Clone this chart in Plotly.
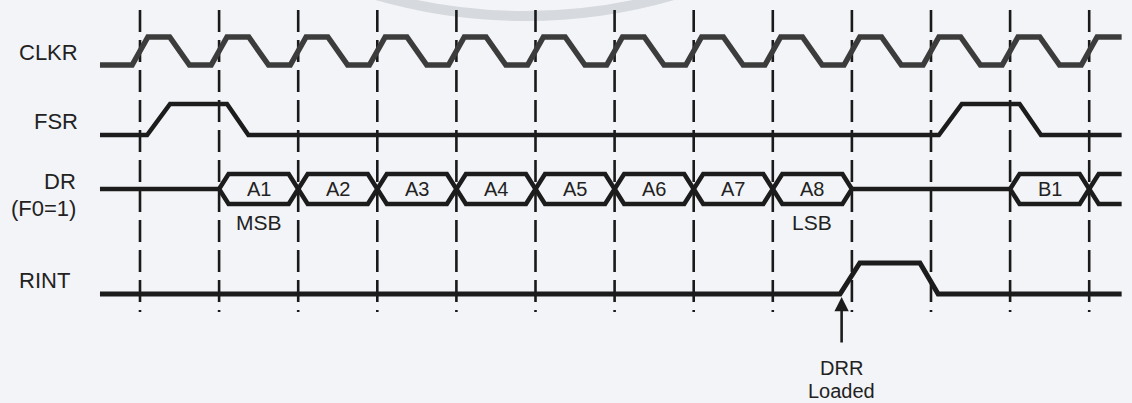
import plotly.graph_objects as go

# ---------------- data (time in clock periods; dashed grid at integer times) ----------------
GRID_TIMES = list(range(0, 13))               # dashed reference lines
T_START, T_END = -0.506, 12.41                # extent of the waveforms

CLKR_RISES = [float(t) for t in range(0, 13)]
CLKR_FALLS = [t + 0.5 for t in range(0, 12)]

FSR_RISES = [0.235, 10.245]
FSR_FALLS = [1.235, 11.255]

DR_WORDS = ["A1", "A2", "A3", "A4", "A5", "A6", "A7", "A8", "B1"]
DR_SLOTS = [1, 2, 3, 4, 5, 6, 7, 8, 11]
DR_OPEN_START = 12                            # next word, continuing off the right edge
DR_NOTES = ["MSB", "LSB"]
DR_NOTE_SLOTS = [1, 8]

RINT_RISES = [8.975]
RINT_FALLS = [9.975]
DRR_LOADED_T = 8.87

SIGNAL_NAMES = ["CLKR", "FSR", "DR", "(F0=1)", "RINT"]
ANNOT_TEXT = ["DRR", "Loaded"]

# ---------------- styling / layout constants ----------------
PX_PER_T = 79.1
X0_PX = 140.0
W, H = 1132, 403
BG = "#f2f4f7"
INK = "#1c1c1c"
FONT = "Liberation Sans, Arial, sans-serif"

ROWS = {  # (low, high) in pixel-like y units (axis reversed)
    "CLKR": (65, 37),
    "FSR": (135, 104),
    "RINT": (294, 263),
}
DR_MID, DR_TOP, DR_BOT = 189, 174, 204
SLANT = 0.12


def t_of_px(px):
    return (px - X0_PX) / PX_PER_T


def waveform(rises, falls, hw_r, hw_f, low, high):
    ev = [(t, "r") for t in rises] + [(t, "f") for t in falls]
    ev.sort()
    xs, ys = [T_START], [low]
    level = low
    for t, k in ev:
        if k == "r":
            xs += [t - hw_r, t + hw_r]
            ys += [low, high]
            level = high
        else:
            xs += [t - hw_f, t + hw_f]
            ys += [high, low]
            level = low
    xs.append(T_END)
    ys.append(level)
    return xs, ys


fig = go.Figure()

# dashed grid lines
gx, gy = [], []
for t in GRID_TIMES:
    gx += [t, t, None]
    gy += [10, 312, None]
fig.add_trace(go.Scatter(x=gx, y=gy, mode="lines",
                         line=dict(color="#1a1a1a", width=2.6, dash="22px,8px"),
                         hoverinfo="skip", showlegend=False))

# CLKR
cx, cy = waveform(CLKR_RISES, CLKR_FALLS, 0.1, 0.125, *ROWS["CLKR"])
fig.add_trace(go.Scatter(x=cx, y=cy, mode="lines",
                         line=dict(color="#3c3c3c", width=5.5), showlegend=False))

# FSR
fx, fy = waveform(FSR_RISES, FSR_FALLS, 0.145, 0.135, *ROWS["FSR"])
fig.add_trace(go.Scatter(x=fx, y=fy, mode="lines",
                         line=dict(color=INK, width=4.5), showlegend=False))

# RINT
rx, ry = waveform(RINT_RISES, RINT_FALLS, 0.125, 0.115, *ROWS["RINT"])
fig.add_trace(go.Scatter(x=rx, y=ry, mode="lines",
                         line=dict(color=INK, width=5), showlegend=False))

# DR bus
dx, dy = [], []
# idle lines
dx += [T_START, DR_SLOTS[0], None]
dy += [DR_MID, DR_MID, None]
dx += [DR_SLOTS[7] + 1, DR_SLOTS[8], None]
dy += [DR_MID, DR_MID, None]
for s in DR_SLOTS:
    dx += [s, s + SLANT, s + 1 - SLANT, s + 1, s + 1 - SLANT, s + SLANT, s, None]
    dy += [DR_MID, DR_TOP, DR_TOP, DR_MID, DR_BOT, DR_BOT, DR_MID, None]
dx += [T_END, DR_OPEN_START + SLANT, DR_OPEN_START, DR_OPEN_START + SLANT, T_END]
dy += [DR_TOP, DR_TOP, DR_MID, DR_BOT, DR_BOT]
fig.add_trace(go.Scatter(x=dx, y=dy, mode="lines",
                         line=dict(color=INK, width=4.5), showlegend=False))

annotations = []
for w, s in zip(DR_WORDS, DR_SLOTS):
    annotations.append(dict(x=s + 0.5, y=DR_MID, text=w, showarrow=False,
                            font=dict(size=20, color="#222", family=FONT)))
for n, s in zip(DR_NOTES, DR_NOTE_SLOTS):
    annotations.append(dict(x=s + 0.5, y=222, text=n, showarrow=False,
                            font=dict(size=21, color="#222", family=FONT)))

# signal names (right edge px, centre y)
name_pos = [(80, 52), (80, 121), (78, 181), (78, 208), (72, 280)]
for name, (px, py) in zip(SIGNAL_NAMES, name_pos):
    annotations.append(dict(x=t_of_px(px), y=py, text=name, showarrow=False,
                            xanchor="right", font=dict(size=22, color="#222", family=FONT)))

# DRR loaded arrow + text
annotations.append(dict(x=DRR_LOADED_T, y=297, ax=DRR_LOADED_T, ay=344,
                        xref="x", yref="y", axref="x", ayref="y", text="",
                        showarrow=True, arrowhead=2, arrowsize=1.1, arrowwidth=2.6,
                        arrowcolor=INK))
for txt, py in zip(ANNOT_TEXT, [368, 391]):
    annotations.append(dict(x=DRR_LOADED_T, y=py, text=txt, showarrow=False,
                            font=dict(size=20, color="#222", family=FONT)))

# faint watermark arc at top
R = 536
cxp, cyp = 525, 16 - R
shapes = [dict(type="circle", xref="x", yref="y",
               x0=t_of_px(cxp - R), x1=t_of_px(cxp + R), y0=cyp - R, y1=cyp + R,
               line=dict(color="#d6d9dd", width=10), layer="below")]

fig.update_layout(
    width=W, height=H,
    margin=dict(l=0, r=0, t=0, b=0),
    paper_bgcolor=BG, plot_bgcolor=BG,
    xaxis=dict(range=[t_of_px(0), t_of_px(W)], visible=False, fixedrange=True),
    yaxis=dict(range=[H, 0], visible=False, fixedrange=True),
    annotations=annotations,
    shapes=shapes,
    showlegend=False,
)

fig.write_html("out.html", post_script="document.body.style.margin='0';",
               config={"displayModeBar": False})
